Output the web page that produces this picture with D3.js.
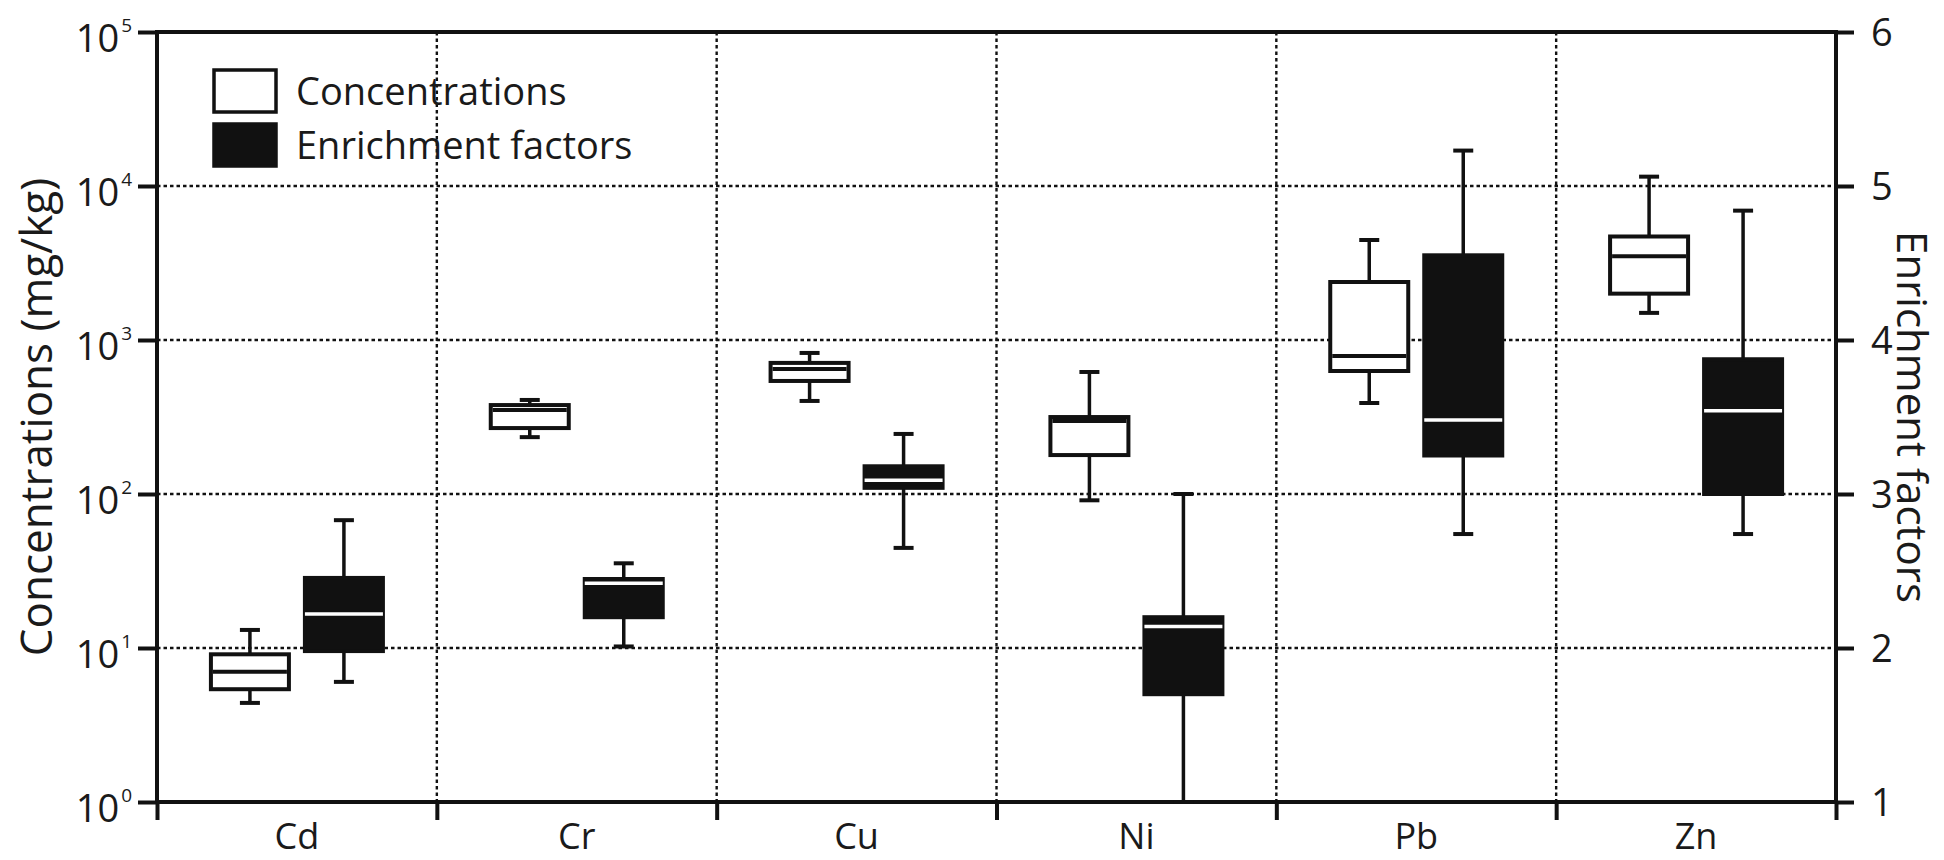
<!DOCTYPE html>
<html>
<head>
<meta charset="utf-8">
<script src="https://d3js.org/d3.v7.min.js"></script>
<style>
  html, body { margin: 0; padding: 0; background: #fff; }
  svg { display: block; }
  text { font-family: "Open Sans", "Noto Sans", sans-serif; fill: #1a1a1a; }
</style>
</head>
<body>
<svg id="chart" width="1944" height="860"></svg>
<script>
// ---------- data ----------
const categories = ["Cd", "Cr", "Cu", "Ni", "Pb", "Zn"];
// Concentrations (mg/kg): [min, q1, median, q3, max]
const concMin = [4.4, 234, 402, 91, 390, 1500];
const concQ1  = [5.4, 268, 542, 179, 629, 2000];
const concMed = [7.0, 351, 649, 298, 787, 3500];
const concQ3  = [9.1, 378, 710, 316, 2380, 4700];
const concMax = [13.1, 408, 824, 620, 4460, 11500];
// Enrichment factors (right axis units)
const efMin = [1.78, 2.01, 2.65, 1.0, 2.74, 2.74];
const efQ1  = [1.98, 2.20, 3.04, 1.70, 3.25, 3.00];
const efMed = [2.22, 2.42, 3.09, 2.14, 3.48, 3.54];
const efQ3  = [2.455, 2.448, 3.18, 2.20, 4.55, 3.875];
const efMax = [2.83, 2.55, 3.39, 3.00, 5.23, 4.84];
const leftTicks = [1, 10, 100, 1000, 10000, 100000];
const rightTicks = [1, 2, 3, 4, 5, 6];
const legendLabels = ["Concentrations", "Enrichment factors"];

// ---------- layout ----------
const L = 157, R = 1836, T = 32, B = 802;
const svg = d3.select("#chart");
const x = d3.scaleBand().domain(categories).range([L, R]);
const y = d3.scaleLog().domain([1, 1e5]).range([B, T]);
const yR = d3.scaleLinear().domain([1, 6]).range([B, T]);
const boxW = 78, off = 47, capW = 20;
const ink = "#111";

// grid
const g = svg.append("g");
g.selectAll(".hg").data(leftTicks.slice(1, -1)).enter().append("line")
  .attr("x1", L).attr("x2", R).attr("y1", d => y(d)).attr("y2", d => y(d))
  .attr("stroke", ink).attr("stroke-width", 2.4).attr("stroke-dasharray", "3.5,3");
g.selectAll(".vg").data(categories.slice(1)).enter().append("line")
  .attr("x1", d => x(d)).attr("x2", d => x(d)).attr("y1", T).attr("y2", B)
  .attr("stroke", ink).attr("stroke-width", 2.4).attr("stroke-dasharray", "3.5,3");

// axes
const axL = d3.axisLeft(y).tickValues(leftTicks).tickSize(19).tickFormat("");
const axR = d3.axisRight(yR).tickValues(rightTicks).tickSize(18).tickFormat("");
const axB = d3.axisBottom(d3.scaleLinear().domain([0, 6]).range([L, R])).tickValues([0,1,2,3,4,5,6]).tickSize(18).tickFormat("");
function styleAx(sel) {
  sel.select(".domain").remove();
  sel.selectAll("line").attr("stroke", ink).attr("stroke-width", 4);
}
svg.append("g").attr("transform", `translate(${L},0)`).call(axL).call(styleAx);
svg.append("g").attr("transform", `translate(${R},0)`).call(axR).call(styleAx);
svg.append("g").attr("transform", `translate(0,${B})`).call(axB).call(styleAx);
// frame lines
svg.append("line").attr("x1", L).attr("x2", L).attr("y1", T - 2).attr("y2", B + 2).attr("stroke", ink).attr("stroke-width", 4);
svg.append("line").attr("x1", R).attr("x2", R).attr("y1", T - 2).attr("y2", B + 2).attr("stroke", ink).attr("stroke-width", 4);
svg.append("line").attr("x1", L - 2).attr("x2", R + 2).attr("y1", T).attr("y2", T).attr("stroke", ink).attr("stroke-width", 4);
svg.append("line").attr("x1", L - 2).attr("x2", R + 2).attr("y1", B).attr("y2", B).attr("stroke", ink).attr("stroke-width", 4);

// left tick labels 10^n
leftTicks.forEach((v, i) => {
  const t = svg.append("text").attr("x", 132).attr("y", y(v) + 20)
    .attr("text-anchor", "end").style("font-size", "38px");
  t.append("tspan").text("10");
  t.append("tspan").attr("dy", -20).attr("dx", 2).style("font-size", "19px").text(String(i));
});
// right tick labels
rightTicks.forEach(v => {
  svg.append("text").attr("x", 1871).attr("y", yR(v) + 14)
    .style("font-size", "38px").text(v);
});
// category labels
categories.forEach(c => {
  svg.append("text").attr("x", x(c) + x.bandwidth() / 2).attr("y", 849)
    .attr("text-anchor", "middle").style("font-size", "36px").text(c);
});
// axis titles
svg.append("text").attr("transform", `translate(52,${(T + B) / 2}) rotate(-90)`)
  .attr("text-anchor", "middle").style("font-size", "44px").text("Concentrations (mg/kg)");
svg.append("text").attr("transform", `translate(1897,${(T + B) / 2}) rotate(90)`)
  .attr("text-anchor", "middle").style("font-size", "42px").text("Enrichment factors");

// boxes
function drawBox(cx, lo, q1, md, q3, hi, filled) {
  const bg = svg.append("g");
  bg.append("line").attr("x1", cx).attr("x2", cx).attr("y1", hi).attr("y2", q3)
    .attr("stroke", ink).attr("stroke-width", 3.5);
  bg.append("line").attr("x1", cx).attr("x2", cx).attr("y1", q1).attr("y2", lo)
    .attr("stroke", ink).attr("stroke-width", 3.5);
  bg.append("line").attr("x1", cx - capW / 2).attr("x2", cx + capW / 2).attr("y1", hi).attr("y2", hi)
    .attr("stroke", ink).attr("stroke-width", 4);
  bg.append("line").attr("x1", cx - capW / 2).attr("x2", cx + capW / 2).attr("y1", lo).attr("y2", lo)
    .attr("stroke", ink).attr("stroke-width", 4);
  bg.append("rect").attr("x", cx - boxW / 2).attr("y", q3).attr("width", boxW).attr("height", q1 - q3)
    .attr("fill", filled ? ink : "#fff").attr("stroke", ink).attr("stroke-width", 4);
  bg.append("line").attr("x1", cx - boxW / 2 + (filled ? 0 : 2)).attr("x2", cx + boxW / 2 - (filled ? 0 : 2))
    .attr("y1", md).attr("y2", md)
    .attr("stroke", filled ? "#fff" : ink).attr("stroke-width", filled ? 3.5 : 4);
}
categories.forEach((c, i) => {
  const cx = x(c) + x.bandwidth() / 2;
  drawBox(cx - off, y(concMin[i]), y(concQ1[i]), y(concMed[i]), y(concQ3[i]), y(concMax[i]), false);
  drawBox(cx + off, yR(efMin[i]), yR(efQ1[i]), yR(efMed[i]), yR(efQ3[i]), yR(efMax[i]), true);
});

// legend
legendLabels.forEach((lab, i) => {
  const yy = 70 + i * 54;
  svg.append("rect").attr("x", 214).attr("y", yy).attr("width", 62).attr("height", 42)
    .attr("fill", i === 0 ? "#fff" : ink).attr("stroke", ink).attr("stroke-width", 3.5);
  svg.append("text").attr("x", 296).attr("y", yy + 35).style("font-size", "38px").text(lab);
});
</script>
</body>
</html>
